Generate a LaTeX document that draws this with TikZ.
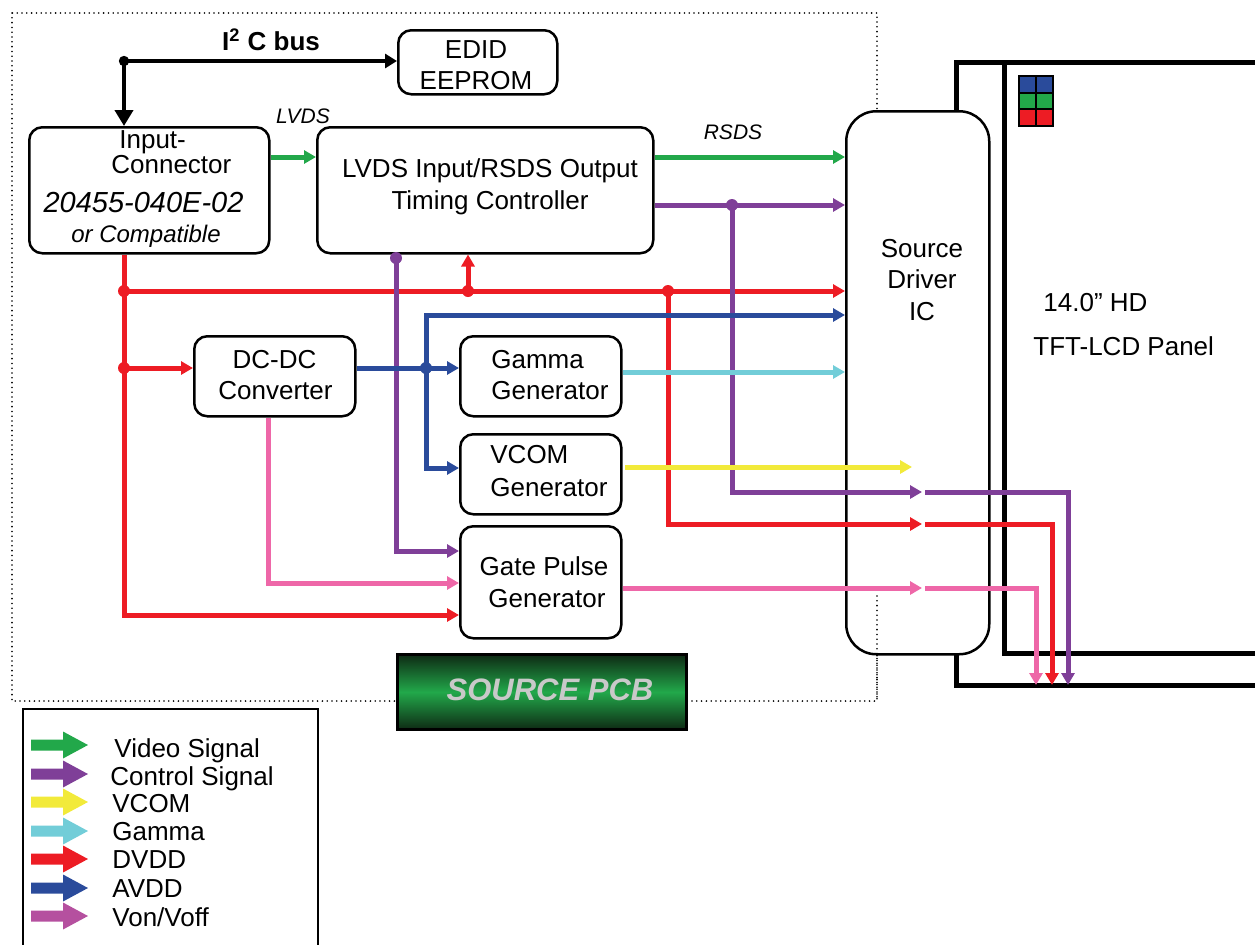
\documentclass[tikz,border=0pt]{standalone}
\usepackage{fontspec}
\setmainfont{Liberation Sans}
\usetikzlibrary{arrows.meta}
\definecolor{cgreen}{HTML}{22A84A}
\definecolor{cpurple}{HTML}{7F3F98}
\definecolor{cyellow}{HTML}{F2EA3A}
\definecolor{ccyan}{HTML}{72CDD8}
\definecolor{cred}{HTML}{ED1C24}
\definecolor{cblue}{HTML}{2A4B9B}
\definecolor{cpink}{HTML}{EE67A8}
\definecolor{cmag}{HTML}{B5509F}
\definecolor{cpcb}{HTML}{22A84A}
\definecolor{cpcbdark}{HTML}{0E2A14}
\definecolor{cpcbtext}{HTML}{C9C9C9}
\tikzset{
  legarrow/.pic={\fill[#1] (0,-5.5) -- (32,-5.5) -- (32,-13.5) -- (57,0) -- (32,13.5) -- (32,5.5) -- (0,5.5) -- cycle;},
  box/.style={draw, line width=1.25pt, rounded corners=6.5pt, fill=white, anchor=north west},
  wire/.style={line width=2.5pt, -{Triangle[length=6pt,width=6.5pt]}},
  bus/.style={line width=2pt, -{Triangle[length=6pt,width=7pt]}},
  busbig/.style={line width=2pt, -{Triangle[length=8pt,width=9pt]}},
  txt/.style={anchor=base},
  txtl/.style={anchor=base west},
  panelline/.style={line width=2.5pt},
  border/.style={line width=0.9pt, dash pattern=on 0pt off 2.4pt, line cap=round},
}
\begin{document}
\begin{tikzpicture}[x=0.5pt,y=-0.5pt, every node/.style={inner sep=0pt, font=\fontsize{13pt}{16pt}\selectfont}]
\useasboundingbox (0,0) rectangle (1255,944);

% dotted PCB outline
\draw[border] (12,13) rectangle (877,701);

% panel outlines
\draw[panelline] (1262,62) -- (956,62) -- (956,685) -- (1262,685);
\draw[panelline] (1004,62) -- (1004,653) -- (1262,653);

% pixel squares
\fill[cblue] (1019,76) rectangle (1053,93);
\fill[cgreen] (1019,93) rectangle (1053,109);
\fill[cred] (1019,109) rectangle (1053,126);
\draw[line width=1.2pt] (1019,76) rectangle (1053,126);
\draw[line width=1.2pt] (1036,76) -- (1036,126) (1019,93) -- (1053,93) (1019,109) -- (1053,109);

% boxes
\node[box, minimum width=79.5pt, minimum height=32pt] (edid) at (397,29) {};
\node[box, minimum width=120pt, minimum height=63pt] (inconn) at (28,126) {};
\node[box, minimum width=168pt, minimum height=63pt] (tc) at (316,126) {};
\node[box, minimum width=80.5pt, minimum height=40pt] (dc) at (193,335) {};
\node[box, minimum width=80.5pt, minimum height=40pt] (gg) at (459,335) {};
\node[box, minimum width=80.5pt, minimum height=40pt] (vg) at (459,433) {};
\node[box, minimum width=80.5pt, minimum height=56pt] (gp) at (459,525) {};
\node[box, rounded corners=15pt, minimum width=71.5pt, minimum height=271.5pt] (sd) at (845,110) {};
\draw[border] (877,596) -- (877,701);

% source PCB label box
\node[anchor=north west, draw=black, line width=1.5pt, minimum width=144.5pt, minimum height=37.5pt,
      top color=cpcbdark, bottom color=cpcbdark, middle color=cpcb] (pcb) at (396,653) {};
\node[txt, text=cpcbtext, font=\fontsize{15.5pt}{18pt}\selectfont\bfseries\itshape] (pcbtxt) at (550,700) {SOURCE PCB};

% legend
\draw[line width=0.6pt] (23,709) rectangle (318,960);
\pic at (31,745) {legarrow=cgreen};
\pic at (31,774) {legarrow=cpurple};
\pic at (31,802) {legarrow=cyellow};
\pic at (31,831) {legarrow=ccyan};
\pic at (31,859) {legarrow=cred};
\pic at (31,888) {legarrow=cblue};
\pic at (31,916) {legarrow=cmag};
\node[txtl] (lg1) at (114,757) {Video Signal};
\node[txtl] (lg2) at (110,785) {Control Signal};
\node[txtl] (lg3) at (112,812) {VCOM};
\node[txtl] (lg4) at (112,840) {Gamma};
\node[txtl] (lg5) at (112,868) {DVDD};
\node[txtl] (lg6) at (112,897) {AVDD};
\node[txtl] (lg7) at (112,926) {Von/Voff};

% coordinates
\coordinate (j1) at (124,61);
\coordinate (rA) at (124,291);
\coordinate (rB) at (124,368);
\coordinate (rC) at (124,615);
\coordinate (rD) at (468,291);
\coordinate (rE) at (668,291);
\coordinate (rF) at (668,524);
\coordinate (rG) at (922,524);
\coordinate (rH) at (925,524);
\coordinate (rI) at (1052,524);
\coordinate (rJ) at (1052,685);
\coordinate (pA) at (732,205);
\coordinate (pB) at (732,492);
\coordinate (pC) at (922,492);
\coordinate (pD) at (925,492);
\coordinate (pE) at (1068,492);
\coordinate (pF) at (1068,685);
\coordinate (pG) at (396,258);
\coordinate (pH) at (396,551);
\coordinate (bA) at (426,368);
\coordinate (bB) at (426,315);
\coordinate (bC) at (426,468);
\coordinate (cA) at (0,372);
\coordinate (kA) at (268,583);
\coordinate (kB) at (922,588);
\coordinate (kC) at (925,588);
\coordinate (kD) at (1036,588);
\coordinate (kE) at (1036,685);
\coordinate (yA) at (625,467);
\coordinate (yB) at (912,467);
\coordinate (gA) at (0,157);

% red (DVDD)
\draw[wire,cred] (inconn.south -| rA) -- (rC) -- (rC -| gp.west);
\draw[wire,cred] (rA) -- (rA -| sd.west);
\draw[wire,cred] (rB) -- (rB -| dc.west);
\draw[wire,cred] (rD) -- (rD |- tc.south);
\draw[wire,cred] (rE) -- (rF) -- (rG);
\draw[wire,cred] (rH) -- (rI) -- (rJ);
\foreach \p in {rA,rB,rD,rE} \fill[cred] (\p) circle (3pt);

% purple (control)
\draw[wire,cpurple] (tc.east |- pA) -- (pA -| sd.west);
\draw[wire,cpurple] (pA) -- (pB) -- (pC);
\draw[wire,cpurple] (pD) -- (pE) -- (pF);
\draw[wire,cpurple] (pG) -- (pH) -- (pH -| gp.west);
\foreach \p in {pA,pG} \fill[cpurple] (\p) circle (3pt);

% blue (AVDD)
\draw[wire,cblue] (dc.east |- bA) -- (bA -| gg.west);
\draw[wire,cblue] (bA) -- (bB) -- (bB -| sd.west);
\draw[wire,cblue] (bA) -- (bC) -- (bC -| vg.west);
\fill[cblue] (bA) circle (3pt);

% cyan (gamma)
\draw[wire,ccyan] (gg.east |- cA) -- (cA -| sd.west);

% yellow (VCOM)
\draw[wire,cyellow] (yA) -- (yB);

% pink (Von/Voff)
\draw[wire,cpink] (dc.south -| kA) -- (kA) -- (kA -| gp.west);
\draw[wire,cpink] (gp.east |- kB) -- (kB);
\draw[wire,cpink] (kC) -- (kD) -- (kE);

% green (video)
\draw[wire,cgreen] (inconn.east |- gA) -- (gA -| tc.west);
\draw[wire,cgreen] (tc.east |- gA) -- (gA -| sd.west);

% I2C bus
\draw[bus] (j1) -- (j1 -| edid.west);
\draw[busbig] (j1) -- (j1 |- inconn.north);
\fill (j1) circle (2.6pt);

% texts
\node[txt, font=\fontsize{13pt}{16pt}\selectfont\bfseries] (i2c) at (271,50) {I\textsuperscript{2} C bus};
\node[txt] (edid1) at (476,58) {EDID};
\node[txt] (edid2) at (476,89) {EEPROM};
\node[txt, font=\fontsize{10.5pt}{12pt}\selectfont\itshape] (lvds) at (303,123) {LVDS};
\node[txt, font=\fontsize{10.5pt}{12pt}\selectfont\itshape] (rsds) at (733,139) {RSDS};
\node[txtl] (in1) at (119,148) {Input-};
\node[txtl] (in2) at (111,173) {Connector};
\node[txt, font=\fontsize{14.5pt}{16pt}\selectfont\itshape] (in3) at (143.5,212) {20455-040E-02};
\node[txt, font=\fontsize{12pt}{14pt}\selectfont\itshape] (in4) at (146,242) {or Compatible};
\node[txt] (tc1) at (490,177) {LVDS Input/RSDS Output};
\node[txt] (tc2) at (490,209) {Timing Controller};
\node[txt] (sd1) at (922,257) {Source};
\node[txt] (sd2) at (922,288) {Driver};
\node[txt] (sd3) at (922,320) {IC};
\node[txt] (dc1) at (274.5,368) {DC-DC};
\node[txt] (dc2) at (275.5,399) {Converter};
\node[txtl] (gg1) at (491,368) {Gamma};
\node[txtl] (gg2) at (491,399) {Generator};
\node[txtl] (vg1) at (490,463) {VCOM};
\node[txtl] (vg2) at (490,496) {Generator};
\node[txt] (gp1) at (544,575) {Gate Pulse};
\node[txt] (gp2) at (547,607) {Generator};
\node[txtl] (pn1) at (1043,311) {14.0” HD};
\node[txtl] (pn2) at (1033,355) {TFT-LCD Panel};
\end{tikzpicture}
\end{document}
